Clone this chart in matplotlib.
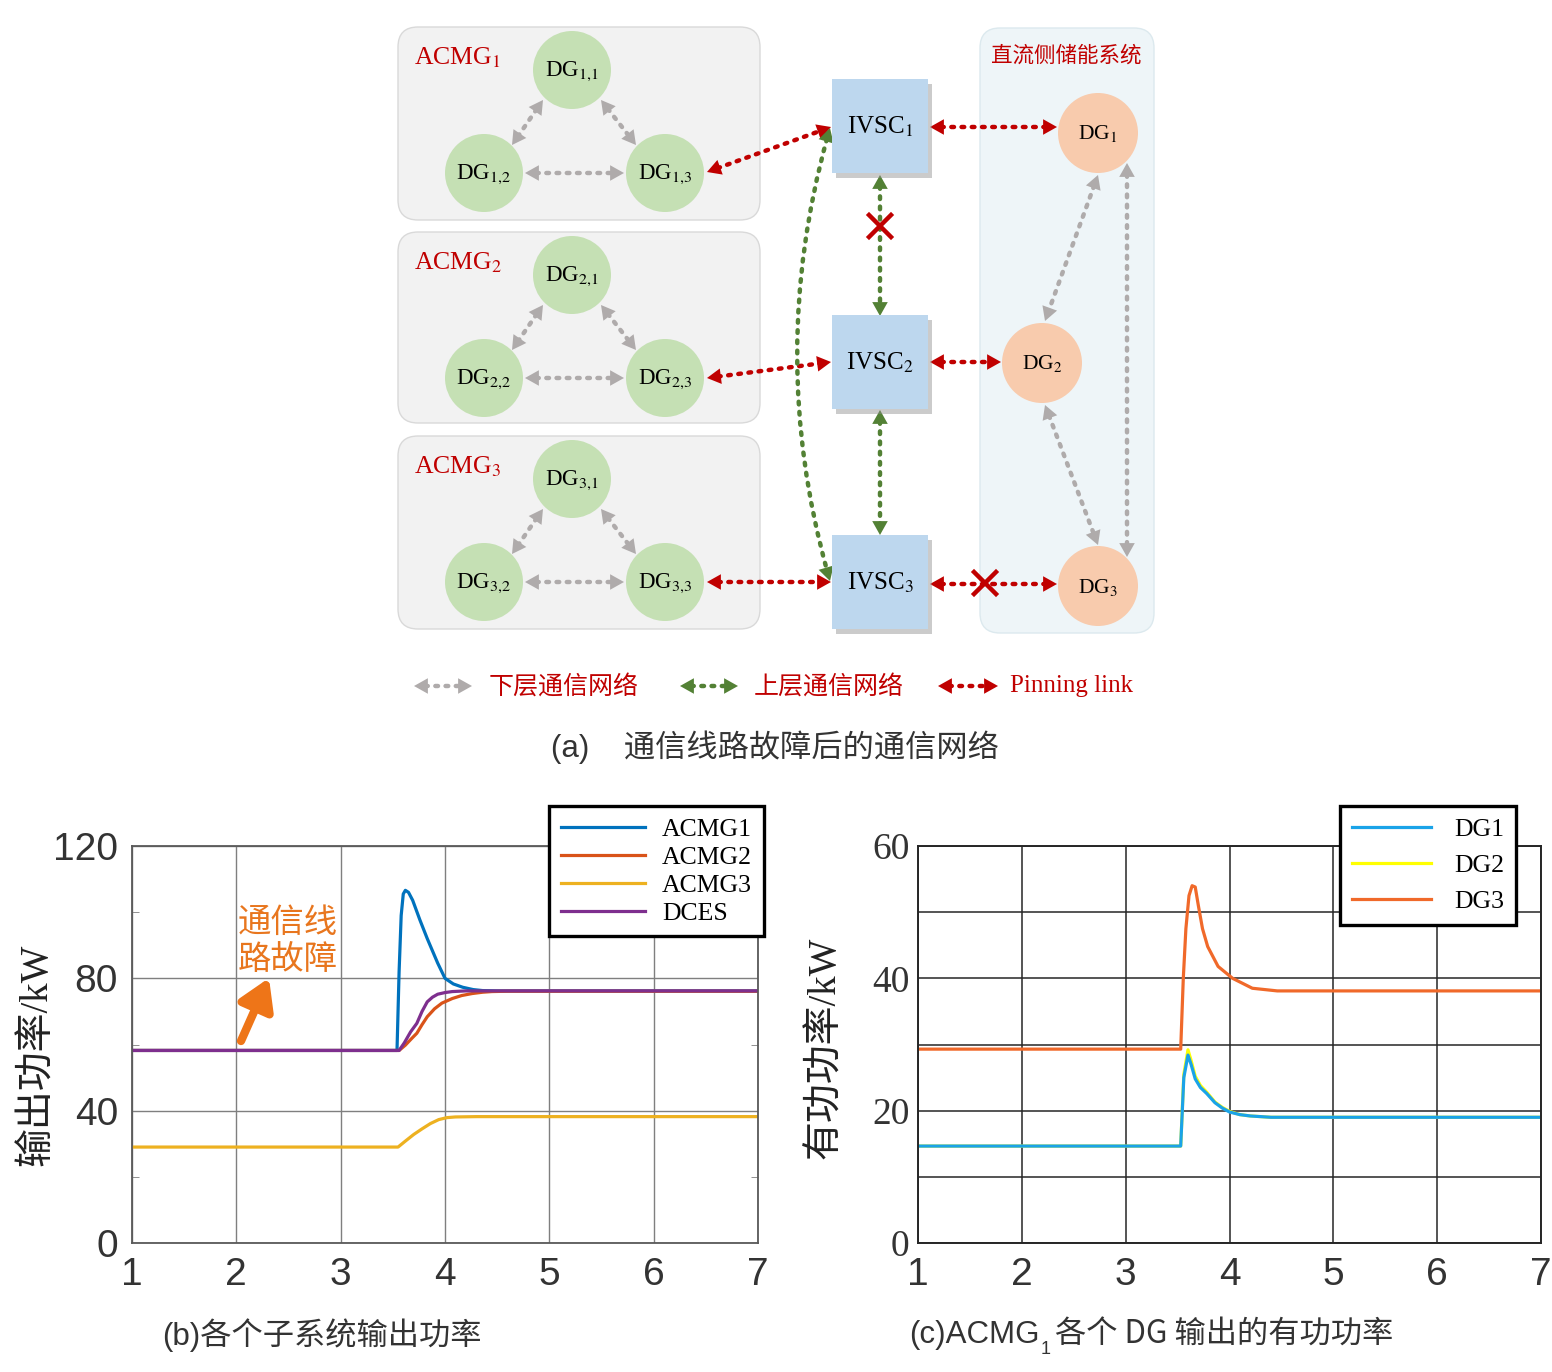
import matplotlib
matplotlib.use("Agg")
import numpy as np
import matplotlib.pyplot as plt
from matplotlib.patches import FancyBboxPatch, Circle, Rectangle, FancyArrowPatch

plt.rcParams["mathtext.fontset"] = "stix"

SERIF = ["Liberation Serif", "Noto Sans CJK SC"]
SANS = ["Liberation Sans", "Noto Sans CJK SC"]
CJK = ["Noto Sans CJK SC", "Liberation Sans"]

# ── (b) 各个子系统输出功率 ─────────────────────────────
acmg1_t = [1.0, 3.54, 3.56, 3.58, 3.60, 3.62, 3.65, 3.69, 3.76, 3.83, 3.93, 4.0, 4.08, 4.17, 4.27, 4.36, 4.5, 7.0]
acmg1_p = [58.2, 58.2, 82.0, 99.0, 105.5, 106.6, 106.0, 103.6, 97.6, 92.0, 84.6, 80.0, 78.3, 77.3, 76.6, 76.3, 76.2, 76.2]
acmg2_t = [1.0, 3.56, 3.62, 3.68, 3.73, 3.78, 3.83, 3.90, 3.97, 4.07, 4.16, 4.26, 4.36, 4.45, 4.6, 7.0]
acmg2_p = [58.2, 58.2, 59.8, 61.8, 63.4, 66.0, 68.4, 70.8, 72.5, 73.9, 74.8, 75.4, 75.8, 76.0, 76.1, 76.1]
acmg3_t = [1.0, 3.55, 3.62, 3.70, 3.78, 3.86, 3.94, 4.02, 4.1, 4.3, 7.0]
acmg3_p = [29.0, 29.0, 30.8, 32.8, 34.5, 36.1, 37.3, 37.9, 38.1, 38.2, 38.2]
dces_t = [1.0, 3.56, 3.61, 3.67, 3.73, 3.78, 3.83, 3.88, 3.93, 4.0, 4.07, 4.2, 7.0]
dces_p = [58.2, 58.2, 60.5, 63.8, 66.4, 70.0, 72.9, 74.3, 75.2, 75.7, 76.0, 76.2, 76.2]

# ── (c) ACMG1 各个 DG 输出的有功功率 ────────────────────
dg1_t = [1.0, 3.53, 3.56, 3.60, 3.63, 3.67, 3.72, 3.78, 3.86, 3.93, 4.0, 4.1, 4.2, 4.4, 7.0]
dg1_p = [14.65, 14.65, 25.0, 28.4, 27.0, 24.8, 23.5, 22.6, 21.2, 20.4, 19.8, 19.4, 19.2, 19.0, 19.0]
dg2_t = [1.0, 3.53, 3.56, 3.60, 3.63, 3.67, 3.72, 3.78, 3.86, 3.93, 4.0, 4.1, 4.2, 4.4, 7.0]
dg2_p = [14.65, 14.65, 25.5, 29.2, 27.6, 25.2, 23.8, 22.8, 21.3, 20.5, 19.9, 19.4, 19.2, 19.0, 19.0]
dg3_t = [1.0, 3.53, 3.555, 3.58, 3.61, 3.64, 3.67, 3.70, 3.74, 3.79, 3.89, 4.03, 4.22, 4.46, 7.0]
dg3_p = [29.3, 29.3, 40.0, 47.5, 52.5, 54.0, 53.8, 51.0, 47.5, 44.8, 41.8, 40.0, 38.5, 38.1, 38.1]

x_ticks = [1, 2, 3, 4, 5, 6, 7]

# ── (a) 通信网络拓扑 (像素座標) ─────────────────────────
group_offsets = [0, 205, 409]
group_names = ["ACMG$_1$", "ACMG$_2$", "ACMG$_3$"]
ivsc_centers = [(880, 126), (880, 362), (880, 582)]
dc_nodes = [(1098, 133), (1042, 363), (1098, 586)]

GREEN_NODE = "#C5E0B4"
ORANGE_NODE = "#F8CBAD"
IVSC_FACE = "#BDD7EE"
C_GRAY = "#AFABAB"
C_RED = "#C00000"
C_GREEN = "#538135"


def link(ax, p1, p2, color, rad=0.0):
    cs = f"arc3,rad={rad}"
    ax.add_patch(FancyArrowPatch(p1, p2, arrowstyle="-", connectionstyle=cs,
                                 shrinkA=8, shrinkB=8, color=color, lw=3.2,
                                 linestyle=(0, (0.6, 1.7)), capstyle="round", zorder=3))
    ax.add_patch(FancyArrowPatch(p1, p2, arrowstyle="<|-|>,head_length=0.5,head_width=0.28",
                                 connectionstyle=cs, shrinkA=0, shrinkB=0,
                                 mutation_scale=20, color=color, lw=0, zorder=3))


def cross(ax, x, y, s=11):
    ax.plot([x - s, x + s], [y - s, y + s], color=C_RED, lw=3.2, zorder=6)
    ax.plot([x - s, x + s], [y + s, y - s], color=C_RED, lw=3.2, zorder=6)


fig = plt.figure(figsize=(15.52, 13.72), dpi=100)
ax0 = fig.add_axes([0, 0, 1, 1])
ax0.set_xlim(0, 1552)
ax0.set_ylim(1372, 0)
ax0.axis("off")

# 子系統外框
for dy in group_offsets:
    ax0.add_patch(FancyBboxPatch((398, 27 + dy), 362, 193 if dy != 205 else 191,
                                 boxstyle="round,pad=0,rounding_size=20",
                                 fc="#F2F2F2", ec="#D9D9D9", lw=1.0, zorder=1))
ax0.add_patch(FancyBboxPatch((980, 28), 174, 605, boxstyle="round,pad=0,rounding_size=20",
                             fc="#EEF5F8", ec="#DCE9EE", lw=1.0, zorder=1))
ax0.text(1066, 56, "直流侧储能系统", color=C_RED, fontsize=15.5, family=CJK,
         ha="center", va="center")

for gi, dy in enumerate(group_offsets):
    g = gi + 1
    ax0.text(414, 58 + dy, group_names[gi], color=C_RED, fontsize=18.5, family=SERIF,
             ha="left", va="center")
    nodes = [(572, 70 + dy), (484, 173 + dy), (665, 173 + dy)]
    for k, (x, y) in enumerate(nodes):
        ax0.add_patch(Circle((x, y), 39, fc=GREEN_NODE, ec="none", zorder=4))
        ax0.text(x, y + 1, f"DG$_{{{g}{{,}}{k + 1}}}$", fontsize=16.5, family=SERIF,
                 ha="center", va="center", zorder=5)
    link(ax0, (543, 100 + dy), (512, 145 + dy), C_GRAY)
    link(ax0, (601, 100 + dy), (636, 145 + dy), C_GRAY)
    link(ax0, (525, 173 + dy), (624, 173 + dy), C_GRAY)

for i, (x, y) in enumerate(ivsc_centers):
    ax0.add_patch(Rectangle((x - 48 + 4, y - 47 + 5), 96, 94, fc="#8C8C8C",
                            ec="none", alpha=0.45, zorder=4))
    ax0.add_patch(Rectangle((x - 48, y - 47), 96, 94, fc=IVSC_FACE, ec="none", zorder=5))
    ax0.text(x, y + 1, f"IVSC$_{i + 1}$", fontsize=18, family=SERIF,
             ha="center", va="center", zorder=6)

for i, (x, y) in enumerate(dc_nodes):
    ax0.add_patch(Circle((x, y), 40, fc=ORANGE_NODE, ec="none", zorder=4))
    ax0.text(x, y + 1, f"DG$_{i + 1}$", fontsize=15.5, family=SERIF,
             ha="center", va="center", zorder=5)

# 直流側內部 (灰)
link(ax0, (1098, 175), (1045, 321), C_GRAY)
link(ax0, (1127, 163), (1127, 557), C_GRAY)
link(ax0, (1045, 405), (1098, 545), C_GRAY)
# Pinning link (紅)
link(ax0, (707, 172), (831, 127), C_RED)
link(ax0, (707, 378), (831, 362), C_RED)
link(ax0, (707, 582), (831, 582), C_RED)
link(ax0, (930, 127), (1057, 127), C_RED)
link(ax0, (930, 362), (1001, 362), C_RED)
link(ax0, (930, 584), (1057, 584), C_RED)
# 上層 (綠)
link(ax0, (880, 175), (880, 316), C_GREEN)
link(ax0, (880, 410), (880, 535), C_GREEN)
link(ax0, (830, 128), (830, 581), C_GREEN, rad=0.145)
cross(ax0, 880, 226)
cross(ax0, 985, 583)

# 圖例列
link(ax0, (414, 686), (472, 686), C_GRAY)
link(ax0, (680, 686), (738, 686), C_GREEN)
link(ax0, (938, 686), (998, 686), C_RED)
ax0.text(489, 687, "下层通信网络", color=C_RED, fontsize=18, family=CJK, ha="left", va="center")
ax0.text(754, 687, "上层通信网络", color=C_RED, fontsize=18, family=CJK, ha="left", va="center")
ax0.text(1010, 686, "Pinning link", color=C_RED, fontsize=18, family=SERIF, ha="left", va="center")
ax0.text(775, 747, "(a)    通信线路故障后的通信网络", color="#333333", fontsize=22.5,
         family=SANS, ha="center", va="center")

# 子圖標題
ax0.text(322, 1335, "(b)各个子系统输出功率", color="#333333", fontsize=22.5,
         family=SANS, ha="center", va="center")
ax0.text(1040, 1335, "(c)ACMG", color="#333333", fontsize=22.5, family=SANS,
         ha="right", va="center")
ax0.text(1041, 1350, "1", color="#333333", fontsize=13, family=SANS, ha="left", va="center")
ax0.text(1055, 1335, "各个 DG 输出的有功功率", color="#333333", fontsize=22.5, family=CJK,
         ha="left", va="center")

# y 軸標題
ax0.text(37, 1055, "输出功率/kW", rotation=90, fontsize=28, family=SERIF,
         ha="center", va="center", color="#222222")
ax0.text(826, 1048, "有功功率/kW", rotation=90, fontsize=28, family=SERIF,
         ha="center", va="center", color="#222222")

# ── (b) ─────────────────────────────────────────────
W, H = 1552, 1372
ax_b = fig.add_axes([132 / W, (H - 1243) / H, (758 - 132) / W, (1243 - 846) / H])
ax_b.plot(acmg1_t, acmg1_p, color="#0072BD", lw=2.3, label="ACMG1")
ax_b.plot(acmg2_t, acmg2_p, color="#D95319", lw=2.3, label="ACMG2")
ax_b.plot(acmg3_t, acmg3_p, color="#EDB120", lw=2.3, label="ACMG3")
ax_b.plot(dces_t, dces_p, color="#7E2F8E", lw=2.3, label="DCES")
ax_b.set_xlim(1, 7)
ax_b.set_ylim(0, 120)
ax_b.set_xticks(x_ticks)
ax_b.set_yticks([0, 40, 80, 120])
ax_b.set_yticks([20, 60, 100], minor=True)
ax_b.grid(True, which="major", color="#7F7F7F", lw=1.0)
ax_b.tick_params(axis="both", which="major", length=0, labelsize=28, colors="#333333")
ax_b.tick_params(axis="x", pad=10)
ax_b.tick_params(axis="y", pad=10)
ax_b.tick_params(axis="y", which="minor", direction="in", length=5, left=True, right=True,
                 color="#7F7F7F")
for lab in ax_b.get_xticklabels() + ax_b.get_yticklabels():
    lab.set_family(SANS)
for sp in ax_b.spines.values():
    sp.set_color("#595959")
    sp.set_linewidth(1.3)
leg_b = ax_b.legend(loc="upper left", bbox_to_anchor=(549 / W, 1 - 806 / H),
                    bbox_transform=fig.transFigure, borderaxespad=0, fancybox=False,
                    edgecolor="black", framealpha=1, prop={"family": SERIF, "size": 18.5},
                    handlelength=3.3, handletextpad=0.65, labelspacing=0.2, borderpad=0.45)
leg_b.get_frame().set_linewidth(2.4)
ax_b.text(238, 941, "通信线\n路故障", transform=ax0.transData, color="#E8761E",
          fontsize=24, family=CJK, ha="left", va="center", linespacing=1.05)
ax_b.add_patch(FancyArrowPatch((241, 1041), (269, 978), transform=ax0.transData,
                               arrowstyle="-|>,head_length=0.9,head_width=0.55",
                               mutation_scale=20, color="#EE7518", lw=6, capstyle="round",
                               shrinkA=0, shrinkB=0, zorder=10, clip_on=False))

# ── (c) ─────────────────────────────────────────────
ax_c = fig.add_axes([918 / W, (H - 1243) / H, (1541 - 918) / W, (1243 - 846) / H])
l2, = ax_c.plot(dg2_t, dg2_p, color="#FFFF00", lw=2.3, label="DG2")
l1, = ax_c.plot(dg1_t, dg1_p, color="#1AA3E8", lw=2.3, label="DG1")
l3, = ax_c.plot(dg3_t, dg3_p, color="#F0692A", lw=2.3, label="DG3")
ax_c.set_xlim(1, 7)
ax_c.set_ylim(0, 60)
ax_c.set_xticks(x_ticks)
ax_c.set_yticks(range(0, 61, 10))
ax_c.set_yticklabels(["0", "", "20", "", "40", "", "60"])
ax_c.grid(True, which="major", color="#262626", lw=1.1)
ax_c.tick_params(axis="both", which="major", length=0, colors="#333333")
ax_c.tick_params(axis="x", pad=10, labelsize=28)
ax_c.tick_params(axis="y", pad=6, labelsize=27)
for lab in ax_c.get_xticklabels():
    lab.set_family(SANS)
for lab in ax_c.get_yticklabels():
    lab.set_family(SERIF)
for sp in ax_c.spines.values():
    sp.set_color("#262626")
    sp.set_linewidth(1.4)
leg_c = ax_c.legend([l1, l2, l3], ["DG1", "DG2", "DG3"], loc="upper left",
                    bbox_to_anchor=(1340 / W, 1 - 806 / H), bbox_transform=fig.transFigure,
                    borderaxespad=0, fancybox=False, edgecolor="black", framealpha=1,
                    prop={"family": SERIF, "size": 18.5}, handlelength=3.1,
                    handletextpad=0.9, labelspacing=0.52, borderpad=0.45)
leg_c.get_frame().set_linewidth(2.4)

fig.savefig("out.png", dpi=100)
